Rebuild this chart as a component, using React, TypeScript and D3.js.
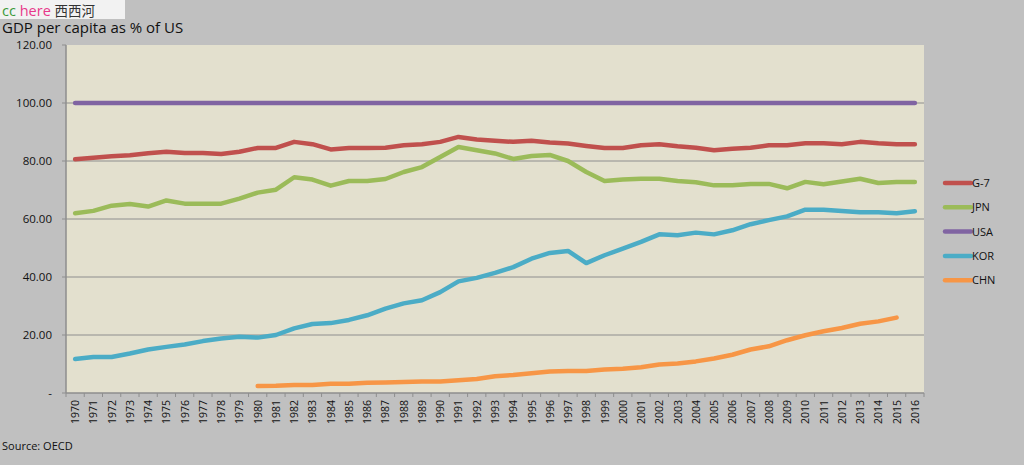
import React from 'react';
import * as d3 from 'd3';

const years = d3.range(1970, 2017).map(String);

const g7 = [80.6, 81.1, 81.6, 82.0, 82.7, 83.2, 82.8, 82.8, 82.4, 83.2, 84.5, 84.5, 86.6, 85.8, 84.0, 84.5, 84.5, 84.6, 85.4, 85.8, 86.6, 88.3, 87.4, 87.0, 86.6, 87.0, 86.4, 86.0, 85.2, 84.5, 84.5, 85.4, 85.8, 85.1, 84.6, 83.7, 84.2, 84.6, 85.4, 85.4, 86.1, 86.1, 85.8, 86.6, 86.1, 85.8, 85.8];
const jpn = [62.0, 62.8, 64.6, 65.2, 64.3, 66.4, 65.3, 65.3, 65.3, 67.0, 69.1, 70.1, 74.4, 73.6, 71.5, 73.1, 73.1, 73.8, 76.2, 77.9, 81.4, 84.8, 83.7, 82.6, 80.7, 81.7, 82.1, 80.0, 76.2, 73.1, 73.6, 73.9, 73.9, 73.1, 72.7, 71.6, 71.6, 72.1, 72.1, 70.6, 72.8, 72.0, 72.9, 73.9, 72.4, 72.8, 72.8];
const usa = years.map(() => 100);
const kor = [11.7, 12.4, 12.4, 13.6, 15.0, 15.9, 16.7, 17.9, 18.8, 19.4, 19.1, 20.0, 22.3, 23.8, 24.1, 25.2, 26.8, 29.1, 30.9, 32.0, 34.8, 38.5, 39.7, 41.4, 43.4, 46.3, 48.3, 49.0, 44.8, 47.5, 49.8, 52.1, 54.7, 54.4, 55.3, 54.7, 56.1, 58.2, 59.6, 60.9, 63.2, 63.2, 62.8, 62.3, 62.3, 62.0, 62.7];
// China starts in 1980, ends 2015
const chn: (number | null)[] = [null, null, null, null, null, null, null, null, null, null, 2.4, 2.5, 2.8, 2.8, 3.2, 3.2, 3.5, 3.6, 3.8, 4.0, 4.0, 4.4, 4.8, 5.8, 6.2, 6.8, 7.4, 7.6, 7.6, 8.1, 8.4, 8.9, 9.8, 10.2, 10.9, 11.9, 13.2, 15.0, 16.1, 18.2, 19.9, 21.3, 22.4, 23.9, 24.7, 26.0, null];

const yTicks = [0, 20, 40, 60, 80, 100, 120];

const series = [
  { name: 'G-7', values: g7, color: '#C0504D' },
  { name: 'JPN', values: jpn, color: '#9BBB59' },
  { name: 'USA', values: usa, color: '#8064A2' },
  { name: 'KOR', values: kor, color: '#4BACC6' },
  { name: 'CHN', values: chn, color: '#F79646' },
];

const W = 1024;
const H = 465;
const plot = { left: 66, right: 924, top: 45, bottom: 393 };
const font = '"Open Sans", "DejaVu Sans", sans-serif';

export default function App() {
  const x = d3.scaleBand<string>().domain(years).range([plot.left, plot.right]);
  const y = d3.scaleLinear().domain([0, 120]).range([plot.bottom, plot.top]);
  const cx = (i: number) => (x(years[i]) as number) + x.bandwidth() / 2;

  const line = d3.line<number | null>()
    .defined(d => d !== null)
    .x((_, i) => cx(i))
    .y(d => y(d as number));

  return (
    <svg width={W} height={H} style={{ position: 'absolute', left: 0, top: 0 }} fontFamily={font}>
      <rect x={0} y={0} width={W} height={H} fill="#C0C0C0" />

      {/* watermark */}
      <rect x={0} y={0} width={125} height={19} fill="#F2F2F2" />
      <text x={2} y={16} fontSize={14.5}>
        <tspan fill="#3a9a3a">cc </tspan>
        <tspan fill="#e8388a">here </tspan>
        <tspan fill="#333" fontFamily='"Noto Sans CJK SC", sans-serif' fontSize={13.5}>西西河</tspan>
      </text>

      <text x={2} y={33} fontSize={15} fill="#111">GDP per capita as % of US</text>

      <rect x={plot.left} y={plot.top} width={plot.right - plot.left} height={plot.bottom - plot.top} fill="#E3E0CE" />

      {yTicks.filter(t => t > 0 && t < 120).map(t => (
        <line key={t} x1={plot.left} x2={plot.right} y1={y(t)} y2={y(t)} stroke="#8E8E8E" strokeWidth={1} />
      ))}

      {/* axes */}
      <line x1={plot.left} x2={plot.left} y1={plot.top} y2={plot.bottom} stroke="#8E8E8E" strokeWidth={1.5} />
      <line x1={plot.left} x2={plot.right} y1={plot.bottom} y2={plot.bottom} stroke="#8E8E8E" strokeWidth={1.5} />
      {yTicks.map(t => (
        <g key={t}>
          <line x1={plot.left - 4} x2={plot.left} y1={y(t)} y2={y(t)} stroke="#8E8E8E" />
          <text x={52} y={y(t) + 4} fontSize={11.5} textAnchor="end" fill="#111">{t === 0 ? '-' : t.toFixed(2)}</text>
        </g>
      ))}
      {years.map((yr, i) => (
        <g key={yr}>
          <line x1={x(yr) as number} x2={x(yr) as number} y1={plot.bottom} y2={plot.bottom + 4} stroke="#8E8E8E" />
          <text transform={`translate(${cx(i) + 4},${plot.bottom + 7}) rotate(-90)`} fontSize={10.5} textAnchor="end" fill="#111">{yr}</text>
        </g>
      ))}
      <line x1={plot.right} x2={plot.right} y1={plot.bottom} y2={plot.bottom + 4} stroke="#8E8E8E" />

      {series.map(s => (
        <path key={s.name} d={line(s.values) || ''} fill="none" stroke={s.color} strokeWidth={4.5} strokeLinejoin="round" strokeLinecap="round" />
      ))}

      {/* legend */}
      {series.map((s, i) => (
        <g key={s.name} transform={`translate(945,${183 + i * 24.3})`}>
          <line x1={0} x2={26} y1={0} y2={0} stroke={s.color} strokeWidth={4.5} strokeLinecap="round" />
          <text x={27} y={4} fontSize={11} fill="#111">{s.name}</text>
        </g>
      ))}

      <text x={2} y={450} fontSize={11} fill="#111">Source: OECD</text>
    </svg>
  );
}
